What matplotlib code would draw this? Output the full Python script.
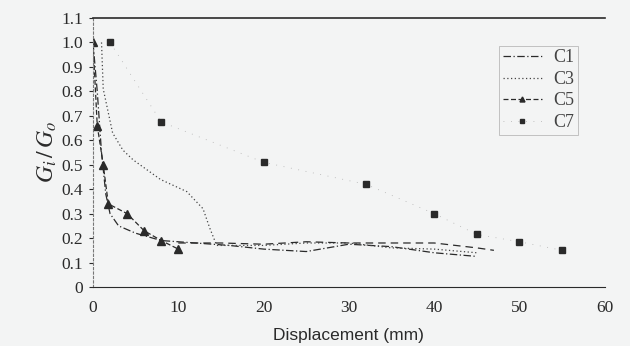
import matplotlib
matplotlib.use("Agg")
import matplotlib.pyplot as plt

plt.rcParams["mathtext.fontset"] = "stix"

# Data
c1_x = [0, 0.5, 1, 1.5, 2, 3, 5, 8, 12, 16, 20, 25, 30, 35, 40, 45]
c1_y = [1.0, 0.8, 0.55, 0.38, 0.3, 0.25, 0.22, 0.19, 0.18, 0.17, 0.155, 0.145, 0.175, 0.165, 0.14, 0.125]

c3_x = [1, 1.2, 2.3, 3.5, 4.7, 7.9, 11, 12.9, 13.7, 14.5, 16, 20, 25, 30, 35, 40, 45]
c3_y = [1.0, 0.81, 0.63, 0.56, 0.52, 0.44, 0.39, 0.32, 0.24, 0.17, 0.17, 0.17, 0.18, 0.18, 0.16, 0.155, 0.14]

c5_x = [0, 0.5, 1.2, 1.8, 4, 6, 8, 10]
c5_y = [1.0, 0.66, 0.5, 0.34, 0.3, 0.23, 0.19, 0.155]
c5_tail_x = [10, 15, 20, 25, 30, 35, 40, 45, 47]
c5_tail_y = [0.18, 0.18, 0.175, 0.185, 0.18, 0.18, 0.18, 0.16, 0.15]

c7_x = [2, 8, 20, 32, 40, 45, 50, 55]
c7_y = [1.0, 0.675, 0.51, 0.42, 0.30, 0.215, 0.185, 0.15]

yticks = [0, 0.1, 0.2, 0.3, 0.4, 0.5, 0.6, 0.7, 0.8, 0.9, 1.0, 1.1]
ytick_labels = ["0", "0.1", "0.2", "0.3", "0.4", "0.5", "0.6", "0.7", "0.8", "0.9", "1.0", "1.1"]
xticks = [0, 10, 20, 30, 40, 50, 60]

bg = "#f3f4f4"
ink = "#2a2a2a"

fig = plt.figure(figsize=(6.3, 3.46), dpi=100, facecolor=bg)
ax = fig.add_axes([0.1476, 0.1705, 0.8124, 0.7775], facecolor=bg)

ax.plot(c1_x, c1_y, color=ink, lw=0.9, ls=(0, (6, 2, 1, 2)), label="C1")
ax.plot(c3_x, c3_y, color="#444444", lw=0.9, ls=(0, (1, 2)), label="C3")
ax.plot(c5_x, c5_y, color=ink, lw=0.9, ls=(0, (4, 2)), marker="^", ms=6, label="C5")
ax.plot(c5_tail_x, c5_tail_y, color=ink, lw=0.9, ls=(0, (6, 4)))
ax.plot(c7_x, c7_y, color="#b0b0b0", lw=0.6, ls=(0, (1, 8)), marker="s", ms=5,
        mfc=ink, mec=ink, label="C7")

ax.set_xlim(0, 60)
ax.set_ylim(0, 1.1)
ax.set_yticks(yticks)
ax.set_yticklabels(ytick_labels)
ax.set_xticks(xticks)

serif = ["Liberation Serif", "DejaVu Serif"]
for lab in ax.get_xticklabels() + ax.get_yticklabels():
    lab.set_fontfamily(serif)
    lab.set_fontsize(12.5)
    lab.set_color(ink)

ax.tick_params(axis="y", direction="out", length=3, width=0.8, color=ink, pad=4)
ax.tick_params(axis="x", length=0, pad=9)

ax.spines["right"].set_visible(False)
ax.spines["top"].set_color(ink)
ax.spines["top"].set_linewidth(1.2)
ax.spines["left"].set_linestyle((0, (2, 2)))
ax.spines["left"].set_linewidth(0.8)
ax.spines["left"].set_color("#777777")
ax.spines["bottom"].set_linestyle((0, (8, 1)))
ax.spines["bottom"].set_color(ink)

ax.set_xlabel("Displacement (mm)", fontfamily=["Liberation Sans", "DejaVu Sans"],
              fontsize=12.5, color=ink, labelpad=9)
ax.set_ylabel(r"$G_i\,/\,G_o$", fontsize=17, color=ink, labelpad=2)

leg = ax.legend(loc="upper right", bbox_to_anchor=(0.965, 0.93), frameon=True,
                fancybox=False, handlelength=2.2, handletextpad=0.6,
                labelspacing=0.25, borderpad=0.2, markerscale=0.6,
                prop={"family": serif, "size": 13})
leg.get_frame().set_facecolor(bg)
leg.get_frame().set_edgecolor("#aaaaaa")
leg.get_frame().set_linewidth(0.6)
for t in leg.get_texts():
    t.set_color("#444444")

fig.savefig("out.png", dpi=100, facecolor=bg)
